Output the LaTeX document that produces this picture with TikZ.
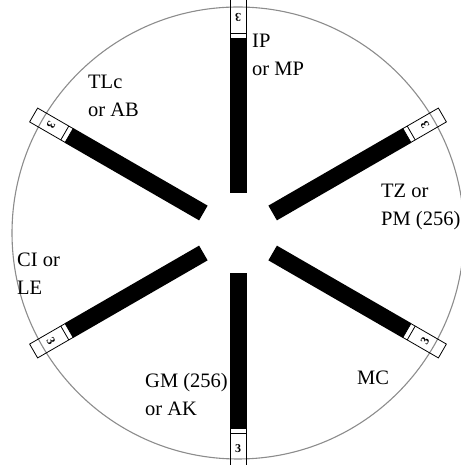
\documentclass[tikz,border=0pt]{standalone}
\usepackage{fontspec}
\setmainfont{Liberation Serif}
\begin{document}
\begin{tikzpicture}[x=1pt,y=1pt,
  rim/.style={draw=black!45, line width=1.1pt},
  capline/.style={draw=black, line width=0.8pt},
  label/.style={anchor=base west, align=left, inner sep=0pt,
    font={\fontsize{20.5}{28.5}\selectfont}},
  tag/.style={inner sep=0pt, font={\fontsize{12}{12}\selectfont\bfseries}}]
\useasboundingbox (0,0) rectangle (460,465);
\coordinate (C) at (238,232);
% outer ring
\draw[rim] (C) circle (226);
% six spokes with their end caps
\foreach \a in {90,30,-30,-90,-150,150} {
  \begin{scope}[shift={(C)}, rotate=\a]
    \fill[black] (40,-8.5) rectangle (195,8.5);
    \draw[capline] (195,-8) rectangle (236,8);
    \draw[capline] (200,-8) -- (200,8);
    \node[tag, rotate=\a+90] at (216,0) {3};
  \end{scope}
}
% spoke labels (anchored on the baseline of the last line)
\node[label] (ip) at (252,389) {IP\\or MP};
\node[label] (tl) at (88,348) {TLc\\or AB};
\node[label] (tz) at (381,239) {TZ or\\PM (256)};
\node[label] (ci) at (17,170) {CI or\\LE};
\node[label] (mc) at (357,80) {MC};
\node[label] (gm) at (145,49) {GM (256)\\or AK};
\end{tikzpicture}
\end{document}
